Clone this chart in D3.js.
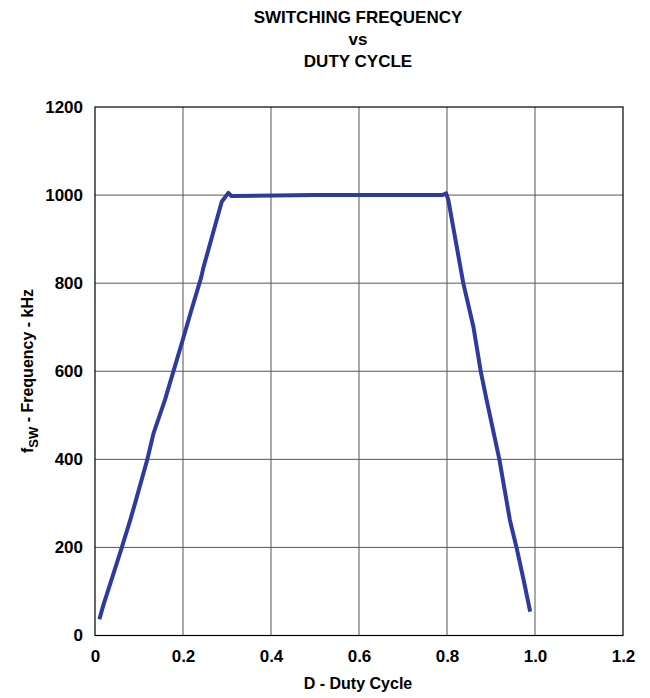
<!doctype html>
<html>
<head>
<style>
  body { margin: 0; background: #fff; }
  text { font-family: "Liberation Sans", Arial, sans-serif; font-weight: bold; fill: #000; }
</style>
<script src="https://d3js.org/d3.v7.min.js"></script>
</head>
<body>
<svg width="650" height="698"></svg>
<script>
// data
var duty = [0.01, 0.019, 0.036, 0.061, 0.08, 0.091, 0.119, 0.133, 0.159, 0.178, 0.197, 0.22, 0.241, 0.246, 0.27, 0.288, 0.303, 0.31, 0.5, 0.79, 0.798, 0.803, 0.837, 0.86, 0.877, 0.89, 0.919, 0.943, 0.958, 0.975, 0.989];
var freq = [37, 69, 122, 200, 262, 300, 400, 459, 535, 599, 663, 742, 812, 834, 920, 985, 1005, 998, 1000, 1000, 1004, 989, 800, 701, 598, 535, 400, 262, 200, 122, 54];
var xTicks = [0, 0.2, 0.4, 0.6, 0.8, 1.0, 1.2];
var yTicks = [0, 200, 400, 600, 800, 1000, 1200];
var titleLines = ["SWITCHING FREQUENCY", "vs", "DUTY CYCLE"];

var svg = d3.select("svg");
var plotL = 95, plotR = 623, plotT = 107, plotB = 635.5;

var x = d3.scaleLinear().domain([0, 1.2]).range([plotL, plotR]);
var y = d3.scaleLinear().domain([0, 1200]).range([plotB, plotT]);

// title
svg.selectAll(".title")
  .data(titleLines)
  .enter().append("text")
  .attr("x", 358)
  .attr("y", function(d, i) { return 23 + i * 22; })
  .attr("text-anchor", "middle")
  .attr("font-size", "17px")
  .text(function(d) { return d; });

// grid
svg.append("g")
  .selectAll("line")
  .data(xTicks.slice(1, -1))
  .enter().append("line")
  .attr("x1", function(d) { return x(d); })
  .attr("x2", function(d) { return x(d); })
  .attr("y1", plotT).attr("y2", plotB)
  .attr("stroke", "#555").attr("stroke-width", 1);
svg.append("g")
  .selectAll("line")
  .data(yTicks.slice(1, -1))
  .enter().append("line")
  .attr("y1", function(d) { return y(d); })
  .attr("y2", function(d) { return y(d); })
  .attr("x1", plotL).attr("x2", plotR)
  .attr("stroke", "#555").attr("stroke-width", 1);

// frame
svg.append("rect")
  .attr("x", plotL).attr("y", plotT)
  .attr("width", plotR - plotL).attr("height", plotB - plotT)
  .attr("fill", "none").attr("stroke", "#000").attr("stroke-width", 1.2);

// axes (labels only)
var xAxis = svg.append("g")
  .attr("transform", "translate(0," + plotB + ")")
  .call(d3.axisBottom(x).tickValues(xTicks).tickSize(0).tickPadding(14)
    .tickFormat(function(d) { return d === 0 ? "0" : d3.format(".1f")(d); }));
var yAxis = svg.append("g")
  .attr("transform", "translate(" + plotL + ",0)")
  .call(d3.axisLeft(y).tickValues(yTicks).tickSize(0).tickPadding(12)
    .tickFormat(d3.format("d")));
[xAxis, yAxis].forEach(function(a) {
  a.select(".domain").remove();
  a.selectAll("text").attr("font-size", "17px").attr("font-family", "Liberation Sans, Arial, sans-serif").attr("font-weight", "bold");
});

// axis titles
svg.append("text")
  .attr("x", 358).attr("y", 689)
  .attr("text-anchor", "middle")
  .attr("font-size", "16px")
  .text("D - Duty Cycle");

var yl = svg.append("text")
  .attr("transform", "translate(33,371) rotate(-90)")
  .attr("text-anchor", "middle")
  .attr("font-size", "16px");
yl.append("tspan").text("f");
yl.append("tspan").attr("dy", 5).attr("font-size", "13px").text("SW");
yl.append("tspan").attr("dy", -5).text(" - Frequency - kHz");

// curve
var line = d3.line()
  .x(function(d) { return x(d[0]); })
  .y(function(d) { return y(d[1]); });
svg.append("path")
  .datum(d3.zip(duty, freq))
  .attr("d", line)
  .attr("fill", "none")
  .attr("stroke", "#2e3a9c")
  .attr("stroke-width", 4)
  .attr("stroke-linejoin", "round");
</script>
</body>
</html>
